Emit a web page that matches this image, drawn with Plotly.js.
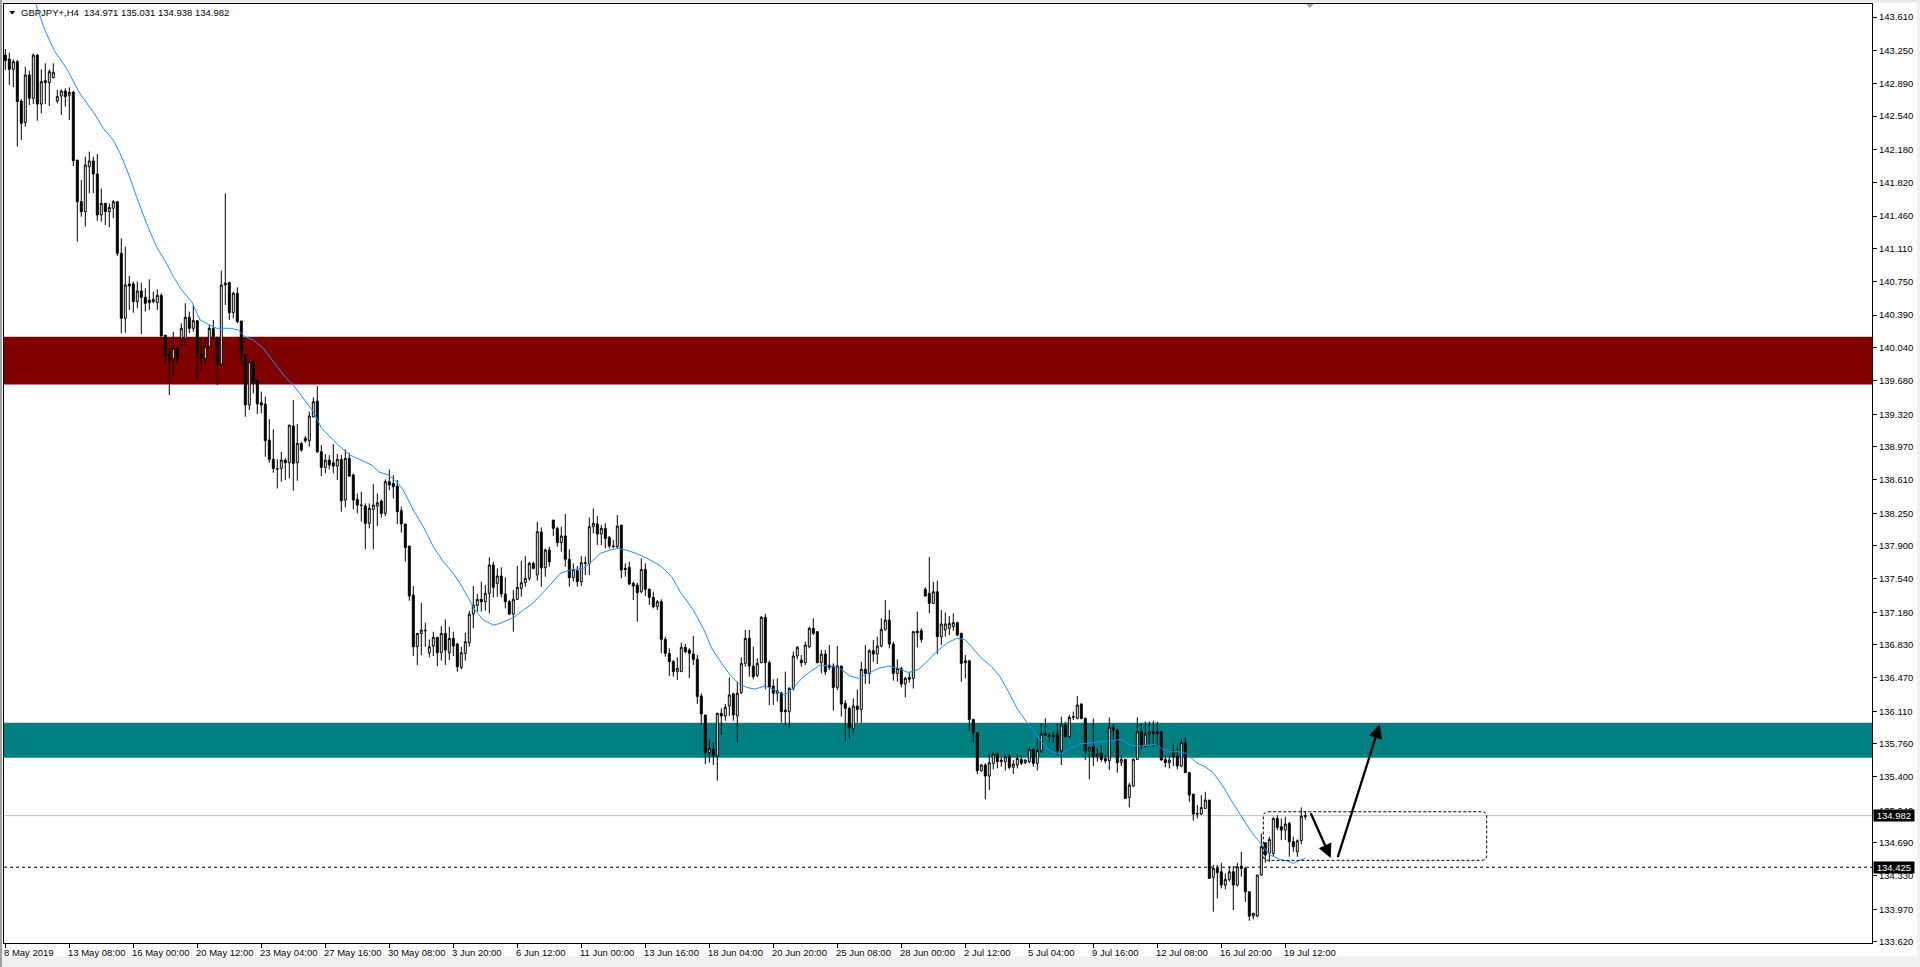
<!DOCTYPE html>
<html><head><meta charset="utf-8">
<script src="https://cdn.plot.ly/plotly-3.0.1.min.js"></script>
<style>html,body{margin:0;padding:0;background:#fff;overflow:hidden}#chart{width:1920px;height:967px}</style>
</head><body><div id="chart"></div>
<script>
// ---- OHLC data (H4 bars) ----
const opens=[
143.201,143.158,143.046,143.129,142.704,142.470,142.985,142.733,143.200,142.671,
142.924,142.902,142.956,142.704,142.758,142.812,142.765,142.798,142.066,141.616,
141.508,141.994,142.056,141.915,141.472,141.598,141.508,141.544,141.616,141.058,
140.356,140.727,140.727,140.536,140.651,140.583,140.554,140.536,140.525,140.604,
140.175,139.970,139.923,140.031,140.139,140.139,140.366,140.247,140.330,139.970,
139.923,140.049,140.247,140.150,139.862,140.716,140.741,140.417,140.626,140.327,
139.960,139.419,139.887,139.689,139.444,139.429,139.040,138.832,138.734,138.734,
138.824,138.795,139.192,138.795,139.004,139.058,139.033,139.292,139.462,138.914,
138.745,138.824,138.795,138.759,138.832,138.392,138.842,138.662,138.399,138.338,
138.327,138.140,138.291,138.327,138.381,138.248,138.590,138.572,138.543,138.277,
138.133,137.895,137.366,136.807,136.951,136.987,136.742,136.814,136.908,136.742,
136.951,136.742,136.897,136.836,136.584,136.735,136.850,137.160,137.254,137.319,
137.294,137.384,137.690,137.492,137.571,137.377,137.294,137.160,137.319,137.438,
137.499,137.546,137.708,137.582,138.047,137.661,137.852,138.176,138.086,137.932,
138.004,137.752,137.553,137.629,137.510,137.715,137.708,138.104,138.133,138.025,
138.086,137.989,137.888,137.888,138.122,137.654,137.665,137.492,137.474,137.402,
137.643,137.427,137.341,137.240,137.294,136.887,136.736,136.646,136.538,136.538,
136.801,136.772,136.729,136.671,136.275,136.070,135.662,135.698,135.626,136.088,
136.059,136.167,136.297,136.059,136.311,136.628,136.898,136.599,136.498,136.635,
137.125,136.635,136.383,136.304,136.311,136.124,136.106,136.358,136.707,136.664,
136.635,136.808,137.006,136.970,136.635,136.728,136.609,136.599,136.368,136.599,
136.195,136.141,135.925,136.166,136.130,136.563,136.519,136.764,136.728,136.815,
136.995,137.096,136.836,136.519,136.573,136.404,136.476,136.465,136.976,136.980,
137.427,137.384,137.276,137.402,136.916,136.988,137.006,137.024,137.067,136.952,
136.656,136.656,136.022,135.878,135.468,135.529,135.410,135.547,135.648,135.565,
135.565,135.626,135.504,135.529,135.590,135.554,135.565,135.698,135.547,135.684,
135.871,135.835,135.853,135.864,135.684,135.961,135.835,136.044,136.033,136.188,
136.033,135.683,135.727,135.619,135.655,135.597,135.575,135.936,135.907,135.554,
135.590,135.179,135.302,135.590,135.889,135.734,135.864,135.889,135.889,135.889,
135.590,135.554,135.684,135.626,135.518,135.770,135.446,135.215,135.006,134.999,
135.060,135.150,134.315,134.412,134.376,134.232,134.293,134.376,134.232,134.437,
134.412,134.160,133.897,133.897,134.340,134.689,134.574,134.574,134.952,134.862,
134.826,134.898,134.700,134.592,134.711,134.971];
const highs=[
143.266,143.226,143.154,143.147,142.725,143.075,143.030,143.219,143.210,143.046,
143.111,143.046,143.111,142.823,142.830,142.841,142.852,142.816,142.066,141.850,
142.102,142.156,142.102,142.131,141.760,141.598,141.598,141.634,141.623,141.220,
141.130,140.813,140.752,140.752,140.741,140.680,140.777,140.644,140.669,140.626,
140.175,140.031,140.211,140.031,140.302,140.518,140.428,140.500,140.338,140.139,
140.139,140.283,140.338,140.150,140.871,141.706,140.752,140.644,140.690,140.327,
139.960,139.905,139.905,139.689,139.563,139.509,139.267,139.156,138.832,138.914,
138.842,139.202,139.472,139.213,139.022,139.084,139.347,139.501,139.624,138.986,
138.889,138.878,138.997,138.889,138.878,138.940,138.903,138.680,138.464,138.482,
138.356,138.356,138.565,138.464,138.399,138.615,138.723,138.662,138.608,138.320,
138.133,137.895,137.463,136.951,137.283,137.067,136.886,136.969,136.915,137.030,
137.102,137.023,136.969,136.850,136.807,136.958,137.196,137.463,137.377,137.510,
137.474,137.773,137.726,137.654,137.665,137.557,137.312,137.420,137.679,137.737,
137.787,137.726,137.726,138.158,138.097,137.870,137.888,138.176,138.104,138.104,
138.241,137.859,137.708,137.679,137.787,137.780,138.205,138.302,138.219,138.122,
138.140,138.004,137.960,138.230,138.122,137.708,137.726,137.510,137.499,137.762,
137.708,137.438,137.402,137.312,137.319,136.916,136.790,136.664,136.693,136.851,
136.837,136.790,136.923,136.718,136.304,136.070,135.806,135.770,136.095,136.142,
136.189,136.476,136.311,136.430,136.693,136.988,136.988,136.808,136.682,137.139,
137.160,136.657,136.455,136.466,136.322,136.538,136.369,136.754,136.815,136.718,
136.862,137.024,137.114,136.970,136.772,136.772,136.826,136.627,136.815,136.599,
136.231,136.159,136.249,136.346,136.645,136.826,136.779,136.880,136.916,137.114,
137.312,137.204,136.862,136.671,136.591,136.483,136.537,136.980,137.186,137.006,
137.449,137.775,137.510,137.521,137.204,137.175,137.139,137.168,137.078,136.959,
136.718,136.656,136.022,135.878,135.540,135.547,135.662,135.673,135.662,135.612,
135.648,135.662,135.583,135.655,135.637,135.590,135.727,135.709,135.817,135.979,
136.034,135.871,135.889,135.979,136.051,135.997,136.069,136.105,136.274,136.195,
136.044,135.727,136.033,135.709,135.745,135.637,136.044,135.972,135.925,135.637,
135.590,135.338,135.601,136.044,135.979,135.997,136.000,136.008,135.997,135.889,
135.637,135.637,135.756,135.720,135.817,135.828,135.457,135.215,135.096,135.204,
135.240,135.150,134.448,134.448,134.473,134.358,134.437,134.437,134.473,134.592,
134.430,134.160,133.933,134.340,134.790,134.689,134.754,134.970,134.988,134.952,
134.970,134.916,134.754,134.725,135.071,135.031];
const lows=[
143.040,142.877,142.852,142.210,142.283,142.427,142.660,142.671,142.491,142.570,
142.670,142.650,142.949,142.679,142.553,142.643,142.499,142.002,141.184,141.454,
141.346,141.706,141.706,141.411,141.400,141.364,141.339,141.436,141.029,140.193,
140.200,140.446,140.417,140.464,140.186,140.428,140.446,140.518,140.446,140.157,
139.869,139.527,139.725,139.877,140.056,140.067,140.193,140.211,139.689,139.790,
139.869,140.020,140.121,139.635,139.840,140.500,140.338,140.356,140.302,139.834,
139.293,139.365,139.545,139.322,139.329,138.860,138.795,138.687,138.518,138.590,
138.608,138.626,138.493,138.601,138.914,139.011,138.968,139.285,138.903,138.651,
138.680,138.723,138.680,138.608,138.266,138.313,138.644,138.291,138.248,138.158,
137.859,138.086,137.859,138.111,138.205,138.219,138.500,138.410,138.133,138.039,
137.726,137.305,136.707,136.609,136.717,136.807,136.692,136.706,136.598,136.656,
136.609,136.663,136.706,136.537,136.562,136.656,136.807,137.006,137.186,137.186,
137.196,137.168,137.340,137.348,137.340,137.222,137.150,136.969,137.312,137.348,
137.456,137.520,137.643,137.520,137.456,137.564,137.672,138.004,137.888,137.834,
137.672,137.456,137.510,137.456,137.463,137.582,137.582,138.032,137.906,137.906,
137.870,137.870,137.870,137.870,137.546,137.564,137.474,137.312,137.078,137.384,
137.355,137.258,137.222,137.204,136.736,136.700,136.491,136.484,136.448,136.538,
136.736,136.466,136.610,136.189,135.962,135.540,135.554,135.529,135.360,135.853,
136.008,136.059,136.008,135.770,136.297,136.592,136.484,136.455,136.477,136.628,
136.347,136.178,136.178,136.214,135.987,135.962,135.926,136.333,136.671,136.592,
136.610,136.790,136.934,136.628,136.519,136.501,136.555,136.116,136.339,136.051,
135.781,135.817,135.871,135.986,135.986,136.404,136.404,136.645,136.620,136.801,
136.981,136.790,136.440,136.429,136.368,136.260,136.418,136.357,136.800,136.851,
137.348,137.168,137.269,136.728,136.826,136.916,136.934,136.980,136.923,136.429,
136.465,135.900,135.771,135.432,135.457,135.158,135.259,135.482,135.493,135.511,
135.468,135.482,135.432,135.493,135.529,135.540,135.547,135.511,135.468,135.662,
135.842,135.770,135.770,135.637,135.529,135.828,135.828,136.015,136.022,136.022,
135.583,135.374,135.518,135.565,135.565,135.547,135.475,135.799,135.446,135.518,
135.168,135.071,135.294,135.583,135.698,135.727,135.745,135.727,135.727,135.576,
135.504,135.493,135.518,135.482,135.504,135.446,135.132,134.927,134.952,134.988,
135.060,134.304,133.944,134.088,134.196,134.185,134.268,133.962,134.214,134.322,
134.052,133.847,133.861,133.883,134.329,134.473,134.484,134.545,134.826,134.718,
134.718,134.538,134.592,134.538,134.675,134.938];
const closes=[
143.140,143.046,143.129,142.697,142.463,142.985,142.733,143.200,142.671,142.913,
142.902,143.021,143.014,142.751,142.812,142.751,142.798,142.059,141.616,141.508,
142.012,142.056,141.915,141.472,141.598,141.508,141.555,141.616,141.058,140.356,
140.716,140.705,140.536,140.651,140.583,140.518,140.525,140.561,140.604,140.165,
139.949,139.898,140.031,139.923,140.247,140.366,140.247,140.330,139.970,139.923,
140.049,140.247,140.157,139.862,140.716,140.737,140.417,140.626,140.320,139.949,
139.419,139.887,139.671,139.430,139.419,139.033,138.832,138.734,138.727,138.824,
138.795,139.202,138.788,139.004,138.932,139.033,139.300,139.455,138.914,138.745,
138.824,138.770,138.759,138.832,138.385,138.842,138.651,138.392,138.338,138.335,
138.140,138.302,138.338,138.363,138.248,138.590,138.554,138.536,138.266,138.133,
137.880,137.355,136.807,136.951,136.987,136.980,136.807,136.908,136.742,136.951,
136.771,136.897,136.814,136.591,136.742,136.861,137.160,137.258,137.319,137.294,
137.384,137.690,137.449,137.571,137.377,137.294,137.160,137.319,137.449,137.499,
137.546,137.708,137.654,138.050,137.661,137.852,137.726,138.086,137.932,138.004,
137.752,137.553,137.643,137.510,137.715,137.708,138.104,138.140,138.025,138.086,
137.978,137.895,137.895,138.111,137.636,137.643,137.485,137.463,137.391,137.643,
137.427,137.341,137.240,137.294,136.887,136.736,136.646,136.538,136.574,136.801,
136.754,136.736,136.671,136.268,136.080,135.662,135.709,135.626,136.088,136.059,
136.153,136.286,136.070,136.304,136.628,136.898,136.599,136.484,136.628,137.125,
136.635,136.370,136.304,136.333,136.106,136.106,136.358,136.707,136.801,136.635,
136.826,137.006,136.952,136.635,136.728,136.537,136.584,136.368,136.599,136.188,
136.141,135.936,136.166,136.130,136.563,136.519,136.764,136.728,136.815,136.995,
137.096,136.836,136.519,136.573,136.404,136.465,136.455,136.970,136.959,136.887,
137.355,137.276,137.402,136.916,137.053,137.053,137.060,137.067,136.934,136.627,
136.635,136.022,135.878,135.468,135.529,135.410,135.554,135.648,135.565,135.583,
135.619,135.504,135.540,135.601,135.547,135.583,135.698,135.547,135.684,135.864,
135.853,135.853,135.835,135.684,135.961,135.835,136.044,136.051,136.177,136.033,
135.683,135.716,135.619,135.647,135.590,135.575,135.936,135.907,135.554,135.590,
135.168,135.312,135.590,135.889,135.734,135.864,135.889,135.871,135.871,135.583,
135.554,135.583,135.619,135.518,135.770,135.446,135.204,134.999,134.999,135.071,
135.150,134.304,134.412,134.365,134.232,134.293,134.376,134.232,134.430,134.412,
134.160,133.897,133.926,134.340,134.646,134.556,134.725,134.952,134.855,134.826,
134.891,134.700,134.646,134.711,134.977,134.982];

// ---- moving average line ----
const maIdx=[7.6,9.9,12.2,15.3,18.7,22.4,24.5,27,28.7,30.75,
32.8,35.3,37.8,40.3,42,44.1,46.6,48.7,50.3,52.8,
56.2,58.25,59.9,62,64.5,67,69.9,72,74.1,77,
79.1,81.2,83.7,86.2,88.7,91.6,93.3,95.8,97.8,99.5,
102,104.5,107,109.5,112,113.7,115.8,117.4,119.5,122,
123.7,125.8,127.4,129.5,131.4,133.7,136.2,138.7,141.2,144.5,
146.6,148.7,151.2,153.3,155.8,158.7,161.2,164.1,166.6,168.7,
172,174.5,176.6,179.1,181.2,183.3,185.3,187.4,189.9,192.4,
194.9,197,199.1,201.2,203.7,206.2,208.7,211.2,213.3,215.3,
218.3,220.8,223.3,225.8,228.3,230.8,232.8,235.3,237.8,239.9,
241.6,244.1,246.6,248.7,250.8,252.9,255.3,257.8,260.3,262.4,
264.1,266.2,268.7,272,274.5,277,279.1,281.2,283.7,285.8,
287.4,289.1,291.2,293.3,295.3,297.8,299.9,302,304.5,306.2,
307.8,309.5,311.2,312.8,314.5,316.2,318.7,321.2,322,323.3,325];
const maVal=[143.75,143.471,143.25,143.057,142.78,142.56,142.408,142.282,142.138,141.922,
141.67,141.382,141.13,140.95,140.806,140.662,140.536,140.338,140.302,140.248,
140.248,140.23,140.158,140.122,140.031,139.887,139.725,139.635,139.509,139.347,
139.166,139.076,138.968,138.878,138.824,138.77,138.698,138.662,138.59,138.5,
138.284,138.104,137.888,137.726,137.6,137.492,137.33,137.204,137.096,137.041,
137.059,137.096,137.132,137.204,137.26,137.36,137.474,137.6,137.636,137.654,
137.726,137.816,137.852,137.87,137.845,137.798,137.744,137.672,137.564,137.402,
137.204,137.006,136.79,136.628,136.502,136.412,136.368,136.35,136.383,136.339,
136.286,136.358,136.466,136.537,136.609,136.599,136.573,136.491,136.465,136.512,
136.573,136.599,136.573,136.527,136.563,136.663,136.753,136.844,136.898,136.887,
136.808,136.681,136.591,136.483,136.321,136.141,135.997,135.853,135.709,135.655,
135.655,135.709,135.76,135.77,135.781,135.799,135.806,135.745,135.734,135.745,
135.755,135.709,135.673,135.673,135.655,135.554,135.511,135.446,135.294,135.168,
135.06,134.934,134.826,134.736,134.646,134.556,134.509,134.484,134.466,134.495,134.52];

// ---- axis labels ----
const timeLabels=["8 May 2019","13 May 08:00","16 May 00:00","20 May 12:00","23 May 04:00","27 May 16:00","30 May 08:00","3 Jun 20:00","6 Jun 12:00","11 Jun 00:00","13 Jun 16:00","18 Jun 04:00","20 Jun 20:00","25 Jun 08:00","28 Jun 00:00","2 Jul 12:00","5 Jul 04:00","9 Jul 16:00","12 Jul 08:00","16 Jul 20:00","19 Jul 12:00"];
const timeLabelBars=[0,16,32,48,64,80,96,112,128,144,160,176,192,208,224,240,256,272,288,304,320];
const priceTicks=[143.610,143.250,142.890,142.540,142.180,141.820,141.460,141.110,140.750,140.390,140.040,139.680,139.320,138.970,138.610,138.250,137.900,137.540,137.180,136.830,136.470,136.110,135.760,135.400,135.040,134.690,134.330,133.970,133.620];

// ---- drawn objects ----
const resistanceZone=[139.640,140.157];
const supportZone=[135.607,135.986];
const bidPrice=134.982;
const levelPrice=134.425;
const boxBars=[314.5,370.35];
const boxPrices=[134.499,135.024];
const arrowDownBars=[326.2,331.35];
const arrowDownPrices=[135.024,134.525];
const arrowUpBars=[333.0,343.6];
const arrowUpPrices=[134.517,135.968];
const headerSymbol="GBPJPY+,H4";
const headerValues=["134.971","135.031","134.938","134.982"];

const barIdx=opens.map((_,i)=>i);
const FONT='"Liberation Sans", Arial, sans-serif';
const PL=4, PR=1872, PT=4, PB=943;
const px=x=>(x-PL)/(PR-PL);
const py=y=>(PB-y)/(PB-PT);

const candle={type:'candlestick',x:barIdx,open:opens,high:highs,low:lows,close:closes,
  increasing:{line:{color:'#000000',width:1},fillcolor:'#ffffff'},
  decreasing:{line:{color:'#000000',width:1},fillcolor:'#000000'},
  whiskerwidth:0,hoverinfo:'none',showlegend:false};
const ma={type:'scatter',mode:'lines',x:maIdx,y:maVal,line:{color:'#1E90FF',width:1},hoverinfo:'none',showlegend:false};

// rounded box path
const rx=1.25, ry=0.054;
const [bx0,bx1]=boxBars, [by0,by1]=boxPrices;
const boxPath=`M ${bx0+rx},${by1} L ${bx1-rx},${by1} Q ${bx1},${by1} ${bx1},${by1-ry} L ${bx1},${by0+ry} Q ${bx1},${by0} ${bx1-rx},${by0} L ${bx0+rx},${by0} Q ${bx0},${by0} ${bx0},${by0+ry} L ${bx0},${by1-ry} Q ${bx0},${by1} ${bx0+rx},${by1} Z`;

const shapes=[
 {type:'rect',xref:'paper',yref:'y',x0:0,x1:1,y0:resistanceZone[0],y1:resistanceZone[1],fillcolor:'#800000',line:{width:0},layer:'below'},
 {type:'rect',xref:'paper',yref:'y',x0:0,x1:1,y0:supportZone[0],y1:supportZone[1],fillcolor:'#008080',line:{width:0},layer:'below'},
 {type:'line',xref:'paper',yref:'y',x0:0,x1:1,y0:bidPrice,y1:bidPrice,line:{color:'#C0C0C0',width:1},layer:'below'},
 {type:'line',xref:'paper',yref:'y',x0:0,x1:1,y0:levelPrice,y1:levelPrice,line:{color:'#000000',width:1,dash:'3px,3px'},layer:'above'},
 {type:'path',xref:'x',yref:'y',path:boxPath,line:{color:'#000000',width:1,dash:'3px,2px'},layer:'above'},
 // header triangle
 {type:'path',xref:'paper',yref:'paper',path:`M ${px(9.3)},${py(11)} L ${px(15.2)},${py(11)} L ${px(12.25)},${py(14.5)} Z`,fillcolor:'#000',line:{width:0}},
 // chart shift marker
 {type:'path',xref:'paper',yref:'paper',path:`M ${px(1306)},${py(4)} L ${px(1314)},${py(4)} L ${px(1310)},${py(8)} Z`,fillcolor:'#A8A8A8',line:{width:0}},
 // window frame
 {type:'rect',xref:'paper',yref:'paper',x0:px(0),x1:px(1920),y0:py(956.5),y1:py(967),fillcolor:'#F0F0F0',line:{width:0}},
 {type:'rect',xref:'paper',yref:'paper',x0:px(1917),x1:px(1920),y0:py(0),y1:py(967),fillcolor:'#F0F0F0',line:{width:0}},
 {type:'rect',xref:'paper',yref:'paper',x0:px(0),x1:px(1920),y0:py(0),y1:py(2.5),fillcolor:'#E8E8E8',line:{width:0}},
 {type:'rect',xref:'paper',yref:'paper',x0:px(0),x1:px(2),y0:py(0),y1:py(967),fillcolor:'#A0A0A0',line:{width:0}}
];

const annotations=[];
timeLabels.forEach((t,k)=>annotations.push({xref:'x',yref:'paper',x:timeLabelBars[k],y:py(952.5),xanchor:'left',yanchor:'middle',xshift:-2,text:t,showarrow:false,borderpad:0,font:{family:FONT,size:9.5,color:'#000'}}));
annotations.push({xref:'paper',yref:'paper',x:px(20),y:py(12.7),xanchor:'left',yanchor:'middle',text:headerSymbol,showarrow:false,borderpad:0,font:{family:FONT,size:9.5,color:'#000'}});
annotations.push({xref:'paper',yref:'paper',x:px(83),y:py(12.7),xanchor:'left',yanchor:'middle',text:headerValues.join(' '),showarrow:false,borderpad:0,font:{family:FONT,size:9.5,color:'#000'}});
[bidPrice,levelPrice].forEach(p=>annotations.push({xref:'paper',yref:'y',x:1,y:p,xanchor:'left',yanchor:'middle',xshift:1,text:'\u00a0'+p.toFixed(3)+'\u00a0',showarrow:false,bgcolor:'#000000',borderpad:0,font:{family:FONT,size:9.5,color:'#ffffff'}}));
annotations.push({xref:'x',yref:'y',axref:'x',ayref:'y',x:arrowDownBars[1],y:arrowDownPrices[1],ax:arrowDownBars[0],ay:arrowDownPrices[0],text:'',showarrow:true,arrowhead:2,arrowsize:1.2,arrowwidth:2.3,arrowcolor:'#000',standoff:0,startstandoff:0});
annotations.push({xref:'x',yref:'y',axref:'x',ayref:'y',x:arrowUpBars[1],y:arrowUpPrices[1],ax:arrowUpBars[0],ay:arrowUpPrices[0],text:'',showarrow:true,arrowhead:2,arrowsize:1.2,arrowwidth:2.3,arrowcolor:'#000',standoff:0,startstandoff:0});

const layout={
  width:1920,height:967,autosize:false,
  margin:{l:PL,r:1920-PR,t:PT,b:967-PB,pad:0},
  paper_bgcolor:'#ffffff',plot_bgcolor:'#ffffff',
  showlegend:false,boxgap:0.3,
  font:{family:FONT,size:9.5,color:'#000'},
  xaxis:{range:[(PL-5.3)/4,(PR-5.3)/4],showgrid:false,zeroline:false,
    tickmode:'array',tickvals:timeLabelBars,ticktext:timeLabelBars.map(()=>''),
    ticks:'outside',ticklen:4,tickcolor:'#000',tickwidth:1,
    showline:true,linecolor:'#000',linewidth:1,mirror:true,
    rangeslider:{visible:false},fixedrange:true},
  yaxis:{side:'right',range:[133.606,143.752],showgrid:false,zeroline:false,
    tickmode:'array',tickvals:priceTicks,ticktext:priceTicks.map(v=>v.toFixed(3)),
    ticks:'outside',ticklen:4,tickcolor:'#000',tickwidth:1,
    tickfont:{family:FONT,size:9.5,color:'#000'},
    showline:true,linecolor:'#000',linewidth:1,mirror:true,fixedrange:true},
  shapes:shapes,annotations:annotations
};
Plotly.newPlot('chart',[candle,ma],layout,{displayModeBar:false,staticPlot:true});
</script></body></html>
